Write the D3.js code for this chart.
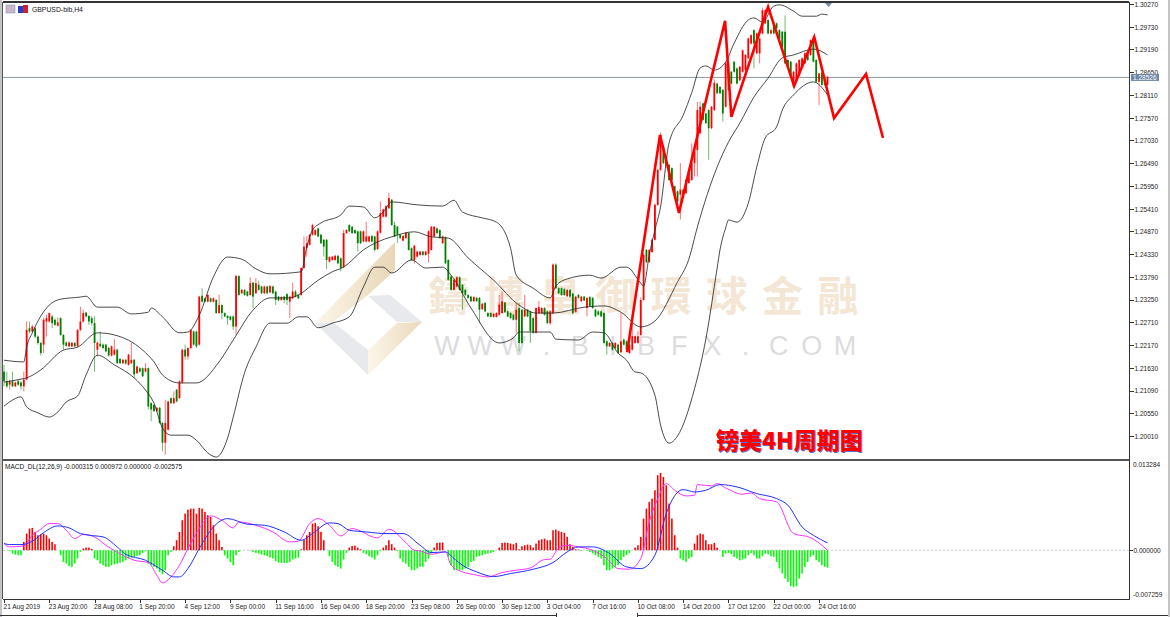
<!DOCTYPE html>
<html><head><meta charset="utf-8">
<script src="https://cdn.jsdelivr.net/npm/d3@7/dist/d3.min.js"></script>
<style>html,body{margin:0;padding:0;background:#fff;overflow:hidden}svg{display:block}
text{font-family:"Liberation Sans",Arial,sans-serif;}
.ax text{font-size:7.4px;fill:#1a1a1a;font-family:"Liberation Sans",sans-serif}
.ax line,.ax path{stroke:#333;stroke-width:1;shape-rendering:crispEdges}
</style></head><body><svg id="c" width="1170" height="617"></svg>
<script>
// Price values are stored as pips above 1.2000
const priceBase = 1.2, pip = 0.0001;
const symbolLabel = "GBPUSD-bib,H4";
const macdLabel = "MACD_DL(12,26,9) -0.000315 0.000972 0.000000 -0.002575";
const chartTitle = "镑美4H周期图";
const markChars = ["鑄","博","皇","御","環","球","金","融"];
const markSite = "WWW.BIBFX.COM";
const lastPrice = 1.28526;
const priceTicks = [1.3027,1.2973,1.2919,1.2865,1.2811,1.2757,1.2703,1.2649,1.2595,1.2541,1.2487,1.2433,1.2379,1.2325,1.2271,1.2217,1.2163,1.2109,1.2055,1.2001];
const timeLabels = ["21 Aug 2019","23 Aug 20:00","28 Aug 08:00","1 Sep 20:00","4 Sep 12:00","9 Sep 00:00","11 Sep 16:00","16 Sep 04:00","18 Sep 20:00","23 Sep 08:00","26 Sep 00:00","30 Sep 12:00","3 Oct 04:00","7 Oct 16:00","10 Oct 08:00","14 Oct 20:00","17 Oct 12:00","22 Oct 00:00","24 Oct 16:00"];
const opens = [154,131,123,131,119,131,128,119,135,257,
249,257,237,222,218,273,273,285,277,263,
281,241,223,214,214,222,214,253,273,294,
286,281,269,206,220,218,218,210,192,194,
206,184,174,182,170,174,182,150,162,162,
154,162,79,75,60,68,32,-15,16,91,
79,111,91,128,206,190,210,249,249,218,
334,328,320,328,320,324,293,312,293,286,
285,285,261,381,340,348,344,336,365,340,
360,356,340,356,342,356,344,332,324,332,
338,320,328,344,336,336,400,447,455,479,
479,494,479,467,467,415,419,419,429,423,
402,483,502,498,490,487,487,463,463,463,
476,475,445,484,522,522,542,562,502,498,
479,465,471,483,447,419,427,431,439,431,
434,443,475,494,490,459,473,419,380,348,
356,378,360,348,336,332,321,329,329,302,
317,293,293,284,284,289,293,318,297,293,
289,277,305,301,285,301,297,281,246,293,
293,305,297,269,293,408,352,352,350,333,
348,339,296,336,321,332,305,331,329,301,
297,297,293,226,214,222,210,218,200,230,
226,198,206,222,222,241,324,443,414,438,
467,550,633,688,665,645,637,594,582,574,
586,578,602,609,649,680,720,791,767,775,
732,775,838,830,823,783,886,866,890,874,
846,866,870,898,933,965,910,910,957,981,
989,957,981,981,965,961,961,894,890,831,
846,858,878,886,910,906,941,894,842,864,846,835];
const closes = [131,119,131,119,128,123,119,135,253,249,
261,237,222,198,277,281,293,269,265,271,
241,218,215,223,222,214,253,273,293,285,
273,269,222,223,214,210,202,192,214,206,
174,174,182,173,194,182,147,166,154,143,
162,71,64,60,68,32,-15,32,83,79,
91,83,131,206,190,210,253,218,214,332,
320,320,336,320,328,293,312,293,285,281,
277,261,381,336,348,336,334,364,332,364,
348,340,356,340,357,340,324,323,331,324,
324,332,344,332,328,400,451,459,479,502,
490,475,459,451,419,426,427,429,411,400,
483,490,487,483,483,459,459,487,475,475,
463,443,487,530,539,547,566,502,475,479,
471,476,484,443,419,453,439,439,431,439,
487,498,498,483,471,475,411,372,348,372,
378,348,340,336,329,321,331,321,301,315,
297,285,284,291,293,313,321,295,285,281,
277,301,222,222,301,285,250,246,305,307,
305,289,269,297,408,352,340,336,336,348,
332,293,332,329,332,323,329,310,305,285,
289,285,222,214,222,206,222,198,226,218,
206,218,238,238,238,324,431,414,443,467,
550,633,716,649,645,609,609,570,558,586,
574,609,633,649,680,775,783,752,744,732,
783,840,815,815,767,886,823,838,866,838,
878,917,906,945,953,933,957,945,1012,1012,
957,965,957,969,945,925,886,878,854,866,
886,894,898,910,894,941,890,842,862,835,835,854];
const highs = [170,154,135,154,130,135,131,154,273,273,
265,260,240,224,282,289,294,288,280,283,
283,243,226,226,225,224,255,308,301,296,
288,286,285,225,249,221,220,213,216,231,
208,186,184,184,196,222,184,168,164,164,
174,164,81,77,70,70,34,87,85,93,
107,113,133,208,218,212,255,251,251,334,
352,330,338,330,330,326,336,314,295,288,
287,287,384,383,350,350,346,378,367,376,
370,358,358,358,359,358,346,334,333,334,
340,334,365,348,338,402,475,475,481,505,
492,496,481,469,469,428,429,431,431,425,
490,492,504,500,492,489,489,489,510,477,
478,477,489,558,541,549,579,564,510,500,
481,478,486,485,449,455,441,441,441,441,
489,500,500,496,492,477,475,421,382,374,
380,380,362,350,338,334,333,331,331,317,
319,295,295,293,295,336,344,320,299,295,
291,317,317,303,336,303,299,283,307,321,
307,307,299,299,411,411,354,354,352,350,
350,341,334,338,334,334,331,333,331,303,
299,299,295,228,224,224,224,220,293,232,
228,220,269,240,250,330,436,445,445,470,
553,636,722,692,667,647,639,596,584,649,
588,611,635,696,682,795,795,793,769,777,
785,848,840,832,825,890,888,868,892,876,
880,919,908,947,955,967,959,947,1018,1016,
991,967,983,983,967,963,1000,896,892,868,
888,896,900,912,912,943,943,896,864,866,848,856];
const lows = [119,115,111,117,117,120,111,107,133,245,
247,233,218,192,198,237,270,257,262,261,
239,206,213,212,212,212,212,250,270,282,
265,263,154,190,212,207,200,190,190,192,
172,172,172,171,168,172,139,148,152,141,
152,64,36,58,58,30,-35,-43,14,77,
77,81,89,126,182,182,208,216,210,216,
318,318,318,318,318,291,291,278,283,265,
275,253,241,334,338,334,332,334,304,338,
346,338,338,338,340,338,312,321,322,316,
312,281,326,330,326,334,398,427,453,477,
477,473,457,427,397,413,417,417,409,392,
400,481,485,481,481,439,457,461,461,461,
461,439,443,482,520,520,540,500,473,459,
469,463,469,441,417,411,425,429,429,429,
413,441,473,481,469,457,409,370,346,346,
354,346,301,334,327,319,319,319,269,300,
295,283,282,282,282,287,291,293,283,279,
275,246,202,220,283,283,222,244,244,291,
291,287,267,265,291,350,338,334,334,331,
330,289,294,327,319,321,285,308,303,283,
287,283,220,194,212,204,208,196,198,216,
204,196,204,220,220,239,322,412,412,436,
465,548,631,647,643,607,607,568,556,515,
572,576,600,607,617,617,718,750,742,657,
730,773,813,813,748,781,821,836,864,836,
844,864,868,896,931,874,908,886,955,979,
955,955,955,967,943,923,884,876,852,829,
844,856,876,884,892,904,888,840,787,833,833,833];
// Bollinger bands: [bar, pips]
const upperBand = [[0,181],[7,177],[8,212],[10,246],[16,312],[20,326],[27,331],[29,333],[33,307],[40,307],[45,291],[51,295],[52,305],[56,284],[62,246],[65,248],[69,288],[74,379],[79,426],[84,421],[89,398],[94,386],[105,391],[107,450],[109,490],[112,507],[119,526],[122,547],[127,545],[131,519],[134,533],[137,557],[146,550],[155,547],[159,561],[162,533],[169,519],[174,509],[179,447],[181,383],[187,352],[193,329],[195,357],[199,374],[207,383],[211,376],[218,402],[220,402],[225,364],[226,357],[228,431],[230,490],[232,545],[235,697],[240,763],[243,816],[246,875],[248,880],[251,870],[255,889],[258,934],[263,989],[265,994],[268,984],[272,1022],[274,1025],[279,1010],[282,998],[287,998],[289,1003],[291,1001]];
const midBand = [[0,129],[6,136],[8,139],[13,158],[21,205],[26,212],[33,246],[39,241],[49,205],[53,177],[56,146],[62,127],[68,127],[76,177],[81,229],[88,300],[94,329],[101,329],[104,336],[111,371],[116,391],[120,402],[127,443],[132,462],[137,474],[145,486],[151,474],[157,471],[164,424],[173,371],[182,312],[188,293],[194,293],[205,307],[212,310],[218,295],[225,260],[230,274],[238,367],[242,421],[245,497],[252,640],[256,699],[260,744],[265,806],[270,851],[275,899],[279,906],[286,920],[291,906]];
const lowerBand = [[0,72],[2,82],[6,94],[8,70],[12,56],[16,46],[19,58],[22,82],[26,96],[29,146],[33,193],[39,170],[46,139],[50,110],[53,79],[56,20],[59,3],[65,3],[68,-9],[72,-39],[75,-49],[79,-4],[81,46],[85,151],[89,212],[94,269],[100,269],[104,284],[107,284],[111,258],[116,269],[122,284],[127,355],[131,402],[134,402],[137,388],[144,419],[149,400],[155,402],[158,383],[165,305],[175,222],[180,234],[182,248],[193,248],[195,231],[203,229],[208,248],[212,246],[217,198],[220,181],[223,153],[225,151],[230,98],[232,27],[235,-16],[238,1],[244,113],[248,231],[252,400],[253,443],[255,495],[256,514],[259,509],[263,554],[266,640],[269,709],[273,735],[275,775],[279,811],[286,842],[291,811]];
// Wave overlay: bar positions (past the last bar is the forecast) and pips
const waveBars = [220.2,231.8,238.5,254.8,257,270,279.2,286.3,293.3,304.6,310.6];
const waveValues = [200,716,531,987,759,1020,832,949,756,861,709];
// MACD, in units of macdUnit
const macdUnit = 4.96e-5;
const macdHist = [0,0,-3,-10,-13,-15,-15,25,50,65,67,55,45,48,50,45,35,25,18,0,-15,-35,-40,-48,-50,-40,-25,-5,5,8,8,4,-25,-30,-40,-45,-50,-50,-45,-42,-40,-38,-35,-30,-25,-22,-20,-17,-15,-8,-3,-40,-45,-50,-55,-65,-72,-60,-15,-5,12,30,55,90,110,122,125,125,110,127,125,115,105,100,75,50,30,10,-15,-25,-35,-45,-15,-5,0,0,0,-1,-5,-8,-10,-13,-15,-18,-22,-25,-33,-37,-38,-38,-38,-35,-28,-25,-22,3,32,45,55,80,82,72,55,30,0,-18,-35,-45,-50,-55,-28,-8,8,13,14,8,3,-8,-12,-18,-22,-28,-15,-3,8,15,30,18,8,-3,-25,-35,-40,-50,-60,-60,-55,-50,
-50,-35,-25,-10,8,22,23,23,0,-20,-45,-60,-60,-60,-60,-55,-50,-35,-32,-20,-18,-15,-12,-10,-8,-5,0,8,22,23,22,20,18,22,3,12,15,17,15,8,20,30,33,35,30,30,60,62,58,55,52,40,18,10,3,2,-2,0,-2,-5,-10,-15,-20,-25,-45,-60,-60,-55,-50,-45,-30,-20,-15,-8,0,8,15,40,95,125,145,155,180,225,232,220,195,140,95,45,8,-25,-30,-35,-25,-20,20,45,50,48,30,18,18,22,8,0,-20,-10,-8,-12,-20,-25,-30,-28,-25,-15,-8,-15,-25,-25,-18,-10,-12,-18,-20,-35,-55,-70,-85,-95,-108,-110,-108,-85,-70,-50,-35,-20,-15,-30,-35,-45,-50,-52];
const macdSignal = [[0,20],[2,17],[6,17],[10,27],[14,53],[19,73],[23,67],[27,50],[30,45],[35,40],[40,10],[43,-12],[50,-30],[56,-60],[60,-80],[62,-80],[65,-55],[69,5],[74,70],[79,95],[86,78],[92,75],[99,55],[105,30],[109,50],[115,82],[118,80],[122,60],[128,55],[135,50],[141,50],[147,15],[151,-7],[156,-5],[159,-25],[162,-45],[167,-65],[173,-79],[179,-70],[187,-57],[194,-37],[199,-5],[203,10],[208,10],[214,-10],[220,-50],[225,-55],[230,-15],[234,110],[240,182],[244,175],[248,180],[253,197],[259,190],[266,170],[273,155],[277,135],[282,70],[286,45],[291,22]];
const macdLine = [[0,20],[2,10],[7,13],[10,45],[13,63],[16,80],[19,80],[22,60],[25,35],[28,48],[32,40],[36,15],[42,-15],[46,-30],[51,-37],[54,-75],[56,-98],[59,-80],[62,-45],[65,5],[69,65],[73,103],[77,90],[81,67],[83,85],[89,75],[95,55],[101,25],[104,27],[108,80],[111,95],[115,75],[119,43],[123,65],[132,37],[136,63],[142,23],[145,0],[147,-2],[151,-12],[156,-5],[158,-45],[162,-65],[166,-73],[171,-80],[176,-67],[181,-60],[186,-53],[191,-28],[193,-27],[196,7],[199,15],[203,10],[208,0],[213,-25],[217,-55],[221,-57],[225,-25],[228,85],[231,155],[234,200],[237,180],[241,163],[244,165],[245,197],[250,193],[252,200],[255,187],[261,168],[264,172],[267,155],[273,145],[279,50],[285,38],[291,0]];

const svg = d3.select("#c");
const x = d3.scaleLinear().domain([0,291]).range([4,4+2.83*291]);
const y = d3.scaleLinear().domain([1.2001,1.3027]).range([436,4]);
const yP = v => y(priceBase + v*pip);
const yM = d3.scaleLinear().domain([-0.007259,0.013284]).range([599,461]);
const defs = svg.append("defs");
function grad(id,a,b,x1,x2){const g=defs.append("linearGradient").attr("id",id).attr("x1",x1).attr("x2",x2).attr("y1",0).attr("y2",0);
 g.append("stop").attr("offset",0).attr("stop-color",a);g.append("stop").attr("offset",1).attr("stop-color",b);}
grad("g1","#fcf6ea","#e8d6b6",0,1);grad("g2","#fcf6ea","#ead9ba",0,1);
// narrows small text to the reference's condensed width without losing height
const squeeze=(sel,k)=>sel.each(function(){const n=this.getComputedTextLength();d3.select(this).attr("textLength",n*k).attr("lengthAdjust","spacingAndGlyphs");});

// window chrome
svg.append("rect").attr("x",0).attr("y",0).attr("width",1170).attr("height",617).attr("fill","#fff");
svg.append("rect").attr("x",0).attr("y",0).attr("width",2).attr("height",617).attr("fill","#c4c4c4");
svg.append("rect").attr("x",1168).attr("y",0).attr("width",2).attr("height",617).attr("fill","#c4c4c4");

// watermark
const wm = svg.append("g");
const poly=(p,f)=>wm.append("polygon").attr("points",p.join(" ")).attr("fill",f);
poly([[316,322],[395,242],[395,270],[368,295],[333,322]],"url(#g1)");
poly([[368,296],[390,295],[422,322],[397,322]],"#e8e9ec");
poly([[315,323],[333,322],[368,350],[368,375]],"#e8e9ec");
poly([[368,350],[397,323],[422,322],[368,375]],"url(#g2)");
const markX = d3.scaleLinear().domain([0,7]).range([449,838]);
wm.selectAll("text.cn").data(markChars).join("text").attr("class","cn").attr("x",(d,i)=>markX(i)).attr("y",311).attr("text-anchor","middle")
 .style("font-family",'"Noto Sans CJK TC"').style("font-weight",700).style("font-size","41px").attr("fill","#f4e6d4").text(d=>d);
const siteX = d3.scaleLinear().domain([0,12]).range([447,845]);
wm.selectAll("text.en").data(markSite.split("")).join("text").attr("class","en").attr("x",(d,i)=>siteX(i)).attr("y",355).attr("text-anchor","middle")
 .style("font-size","27px").attr("fill","#dcdcde").text(d=>d);

// last-price line
svg.append("line").attr("x1",3).attr("x2",1129).attr("y1",y(lastPrice)).attr("y2",y(lastPrice)).attr("stroke","#8c98a2").attr("stroke-width",1);

// candles
const bars = d3.range(closes.length);
const upCol="#ff0000", dnCol="#008000";
const col=i=>closes[i]>=opens[i]?upCol:dnCol;
const gc = svg.append("g");
gc.selectAll("line").data(bars).join("line").attr("x1",x).attr("x2",x).attr("y1",i=>yP(highs[i])).attr("y2",i=>yP(lows[i]))
 .attr("stroke",col).attr("stroke-width",1).attr("opacity",.55);
gc.selectAll("rect").data(bars).join("rect").attr("x",i=>x(i)-.9).attr("width",1.8)
 .attr("y",i=>yP(Math.max(opens[i],closes[i]))).attr("height",i=>Math.max(1,Math.abs(yP(opens[i])-yP(closes[i])))).attr("fill",col);

// bands
const lp = d3.line().x(d=>x(d[0])).y(d=>yP(d[1]));
const lpSmooth = d3.line().x(d=>x(d[0])).y(d=>yP(d[1])).curve(d3.curveMonotoneX);
[upperBand,midBand,lowerBand].forEach(b=>svg.append("path").attr("d",lpSmooth(b)).attr("fill","none").attr("stroke","#2a2a2a").attr("stroke-width",.85));

// wave
svg.append("path").datum(d3.zip(waveBars,waveValues)).attr("d",lp).attr("fill","none").attr("stroke","#ff0000").attr("stroke-width",2.6).attr("stroke-linejoin","miter");
svg.append("path").attr("d","M825 3h7l-3.5 4z").attr("fill","#7a8ea8");

// title
svg.append("text").attr("x",716).attr("y",449).style("font-family",'"Noto Sans CJK SC"').style("font-weight",900).style("font-size","23px")
 .attr("fill","#ff0000").style("text-shadow","0.6px 0.6px 0 #5a70d0").text(chartTitle);

// top-left label and icons
svg.append("rect").attr("x",6).attr("y",5).attr("width",9).attr("height",8).attr("fill","#c9b8c8").attr("stroke","#8a9ab0").attr("stroke-width",.6);
svg.append("rect").attr("x",18).attr("y",6).attr("width",5).attr("height",7).attr("fill","#2040d0");
svg.append("rect").attr("x",23).attr("y",5).attr("width",5).attr("height",8).attr("fill","#d02030");
svg.append("text").attr("x",32).attr("y",12).style("font-size","7.6px").attr("fill","#111").text(symbolLabel).call(squeeze,.9);
svg.append("text").attr("x",5).attr("y",469).style("font-size","7.4px").attr("fill","#111").text(macdLabel).call(squeeze,.88);

// MACD
const h0=yM(0);
svg.append("line").attr("x1",3).attr("x2",1129).attr("y1",h0).attr("y2",h0).attr("stroke","#c3ccd4").attr("stroke-dasharray","2 2");
svg.append("g").selectAll("rect").data(bars).join("rect").attr("x",i=>x(i)-.8).attr("width",1.6)
 .attr("y",i=>Math.min(h0,yM(macdHist[i]*macdUnit))).attr("height",i=>Math.abs(yM(macdHist[i]*macdUnit)-h0))
 .attr("fill",i=>macdHist[i]>=0?"#ff0000":"#00ff00");
const lm = d3.line().x(d=>x(d[0])).y(d=>yM(d[1]*macdUnit)).curve(d3.curveMonotoneX);
svg.append("path").attr("d",lm(macdLine)).attr("fill","none").attr("stroke","#ff30ff").attr("stroke-width",1);
svg.append("path").attr("d",lm(macdSignal)).attr("fill","none").attr("stroke","#2030ff").attr("stroke-width",1);

// frames
const frame=(a,b,c,d,w,s)=>svg.append("line").attr("x1",a).attr("y1",b).attr("x2",c).attr("y2",d).attr("stroke",s||"#333").attr("stroke-width",w||1).style("shape-rendering","crispEdges");
frame(2.5,2,1129,2,1.5);frame(2.5,2,2.5,599,1,"#555");
frame(3,459.5,1129,459.5,2,"#555");frame(3,599.5,1129,599.5,1);
frame(1129.5,2,1129.5,600,1);
frame(0,615.5,556,615.5,1,"#333");frame(637,615.5,1168,615.5,1,"#333");
frame(556,613,556,617,1);frame(637,613,637,617,1);

// axes
const yAxis = d3.axisRight(y).tickValues(priceTicks).tickFormat(d3.format(".5f")).tickSize(4).tickPadding(1);
svg.append("g").attr("class","ax").attr("transform","translate(1129.5,0)").call(yAxis).call(g=>g.select(".domain").remove())
 .selectAll("text").call(squeeze,.88);
const mAxis = d3.axisRight(yM).tickValues([0]).tickFormat(d3.format(".6f")).tickSize(3).tickPadding(1);
svg.append("g").attr("class","ax").attr("transform","translate(1129.5,0)").call(mAxis).call(g=>g.select(".domain").remove())
 .selectAll("text").call(squeeze,.88);
[[0.013284,464],[-0.007259,594]].forEach(([v,py])=>svg.append("text").attr("x",1133).attr("y",py+2.5).style("font-size","7.4px").attr("fill","#1a1a1a").text(v.toFixed(6)).call(squeeze,.88));
const xAxis = d3.axisBottom(x).tickValues(timeLabels.map((d,i)=>i*16)).tickFormat((d,i)=>timeLabels[i]).tickSize(3).tickPadding(1);
svg.append("g").attr("class","ax").attr("transform","translate(0,599.5)").call(xAxis).call(g=>g.select(".domain").remove())
 .selectAll("text").attr("text-anchor","start").attr("dx",-1).style("font-size","7.6px").call(squeeze,.86);

// last-price tag
svg.append("rect").attr("x",1131).attr("y",y(lastPrice)-3.5).attr("width",28).attr("height",7).attr("fill","#6f88a8");
svg.append("text").attr("x",1133).attr("y",y(lastPrice)+2.7).style("font-size","7.4px").attr("fill","#fff").text(lastPrice.toFixed(5)).call(squeeze,.88);
</script></body></html>
